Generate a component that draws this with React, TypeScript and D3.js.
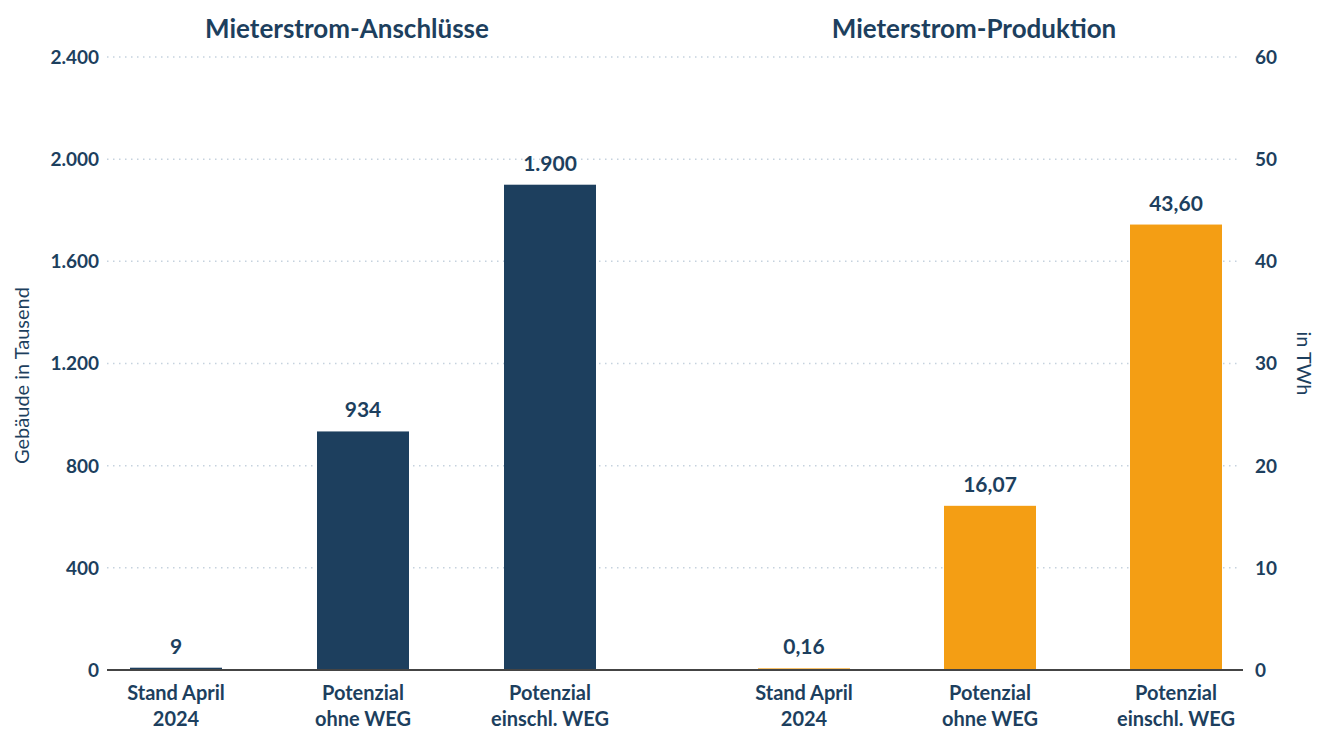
import { useEffect, useRef } from "react";
import * as d3 from "d3";

// data
const categories = ["Stand April|2024", "Potenzial|ohne WEG", "Potenzial|einschl. WEG"];
const anschluesse = [9, 934, 1900]; // Gebäude in Tausend
const produktion = [0.16, 16.07, 43.6]; // in TWh
const leftTicks = [0, 400, 800, 1200, 1600, 2000, 2400];
const rightTicks = [0, 10, 20, 30, 40, 50, 60];
const titles = ["Mieterstrom-Anschlüsse", "Mieterstrom-Produktion"];

const NAVY = "#1d3f5e";
const ORANGE = "#f49e14";
const FONT = "Lato, 'Open Sans', sans-serif";

const de = d3.formatLocale({
  decimal: ",",
  thousands: ".",
  grouping: [3],
  currency: ["", " €"],
});

const App = () => {
  const ref = useRef(null);

  useEffect(() => {
    document.body.style.margin = "0";
    const W = 1317;
    const H = 731;
    const svg = d3.select(ref.current).attr("width", W).attr("height", H);
    svg.selectAll("*").remove();
    svg.append("rect").attr("width", W).attr("height", H).attr("fill", "#fff");

    const plot = { left: 107, right: 1238, top: 57, bottom: 670 };

    const yL = d3.scaleLinear().domain([0, 2400]).range([plot.bottom, plot.top]);
    const yR = d3.scaleLinear().domain([0, 60]).range([plot.bottom, plot.top]);

    // bar centres of each panel
    const xL = d3.scalePoint().domain(categories).range([176, 550]);
    const xR = d3.scalePoint().domain(categories).range([804, 1176]);
    const barW = 92;

    const fmtL = de.format(",d");
    const fmtR = de.format(",.2f");

    // gridlines
    svg
      .append("g")
      .selectAll("line")
      .data(leftTicks.filter((t) => t > 0))
      .join("line")
      .attr("x1", plot.left)
      .attr("x2", plot.right)
      .attr("y1", (d) => yL(d))
      .attr("y2", (d) => yL(d))
      .attr("stroke", "#c5d2de")
      .attr("stroke-width", 1.5)
      .attr("stroke-dasharray", "1.5 4.5");

    // left axis labels
    svg
      .append("g")
      .selectAll("text")
      .data(leftTicks)
      .join("text")
      .attr("x", 99)
      .attr("y", (d) => yL(d))
      .attr("dy", "0.36em")
      .attr("text-anchor", "end")
      .attr("fill", NAVY)
      .style("font", `bold 19px ${FONT}`)
      .text((d) => fmtL(d));

    // right axis labels
    svg
      .append("g")
      .selectAll("text")
      .data(rightTicks)
      .join("text")
      .attr("x", 1255)
      .attr("y", (d) => yR(d))
      .attr("dy", "0.36em")
      .attr("text-anchor", "start")
      .attr("fill", NAVY)
      .style("font", `bold 19px ${FONT}`)
      .text((d) => d);

    const drawGroup = (x, y, values, color, fmt) => {
      const g = svg.append("g");
      g.selectAll("rect")
        .data(values)
        .join("rect")
        .attr("x", (d, i) => x(categories[i]) - barW / 2)
        .attr("width", barW)
        .attr("y", (d) => y(d))
        .attr("height", (d) => plot.bottom - y(d))
        .attr("fill", color);

      g.selectAll("text.val")
        .data(values)
        .join("text")
        .attr("class", "val")
        .attr("x", (d, i) => x(categories[i]))
        .attr("y", (d) => y(d) - 14)
        .attr("text-anchor", "middle")
        .attr("fill", NAVY)
        .style("font", `bold 21px ${FONT}`)
        .text((d) => fmt(d));

      categories.forEach((c) => {
        const t = g
          .append("text")
          .attr("y", 700)
          .attr("text-anchor", "middle")
          .attr("fill", NAVY)
          .style("font", `bold 20px ${FONT}`);
        c.split("|").forEach((line, i) => {
          t.append("tspan")
            .attr("x", x(c))
            .attr("dy", i === 0 ? 0 : 26)
            .text(line);
        });
      });
    };

    drawGroup(xL, yL, anschluesse, NAVY, fmtL);
    drawGroup(xR, yR, produktion, ORANGE, fmtR);

    // baseline
    svg
      .append("line")
      .attr("x1", plot.left)
      .attr("x2", 1243)
      .attr("y1", plot.bottom)
      .attr("y2", plot.bottom)
      .attr("stroke", "#444")
      .attr("stroke-width", 2);

    // panel titles
    svg
      .selectAll("text.title")
      .data(titles)
      .join("text")
      .attr("class", "title")
      .attr("x", (d, i) => (i === 0 ? 347 : 974))
      .attr("y", 38)
      .attr("text-anchor", "middle")
      .attr("fill", NAVY)
      .style("font", `bold 26px ${FONT}`)
      .text((d) => d);

    // axis titles
    svg
      .append("text")
      .attr("transform", `translate(29, ${yL(1200) + 12}) rotate(-90)`)
      .attr("text-anchor", "middle")
      .attr("fill", NAVY)
      .style("font", `20px ${FONT}`)
      .text("Gebäude in Tausend");

    svg
      .append("text")
      .attr("transform", `translate(1297, ${yR(30)}) rotate(90)`)
      .attr("text-anchor", "middle")
      .attr("fill", NAVY)
      .style("font", `20px ${FONT}`)
      .text("in TWh");
  }, []);

  return (
    <div>
      <svg ref={ref} style={{ display: "block" }}></svg>
    </div>
  );
};

export default App;
